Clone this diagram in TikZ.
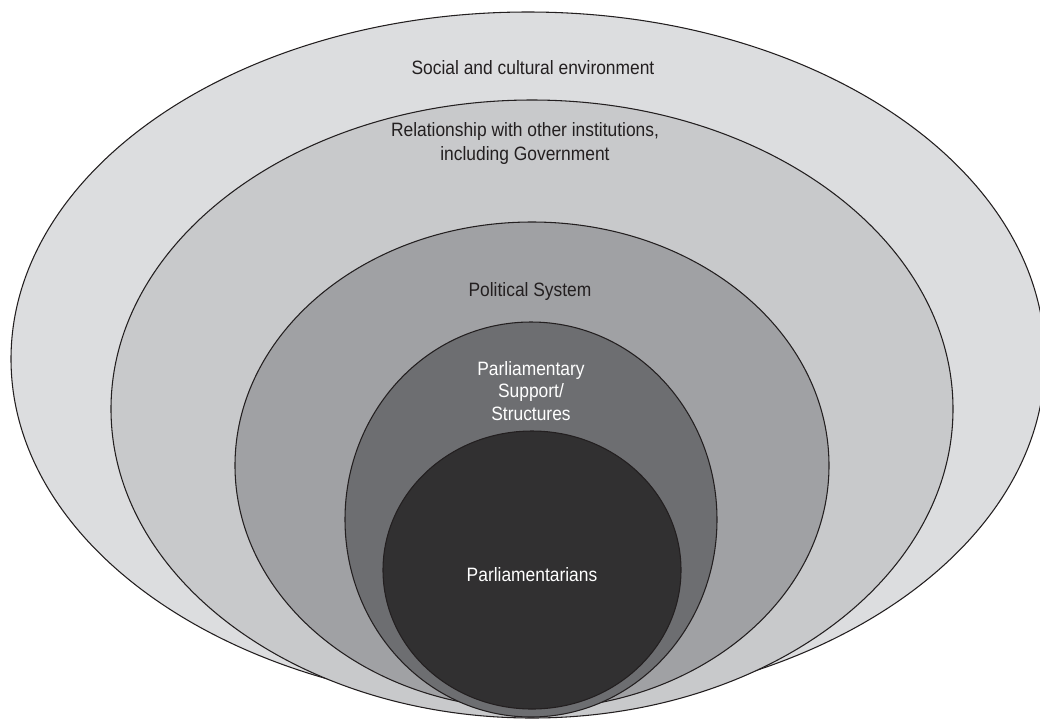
\documentclass[tikz,border=0pt]{standalone}
\usepackage{fontspec}
\setmainfont{Liberation Sans}[FakeStretch=0.9]
\definecolor{ringA}{HTML}{DCDDDF}
\definecolor{ringB}{HTML}{C8C9CB}
\definecolor{ringC}{HTML}{A0A1A4}
\definecolor{ringD}{HTML}{6D6E71}
\definecolor{ringE}{HTML}{313031}
\definecolor{edge}{HTML}{231F20}
\definecolor{darktext}{HTML}{231F20}
\begin{document}
\begin{tikzpicture}[x=0.75pt,y=-0.75pt,
  ring/.style={draw=edge,line width=0.8pt},
  label/.style={align=center,font=\fontsize{14.5}{18}\selectfont,inner sep=0pt},
  darklabel/.style={label,text=darktext},
  lightlabel/.style={label,text=white}]
\useasboundingbox (0,0) rectangle (1040,719);
% nested layers, outermost first
\path[ring,fill=ringA] (528,359) ellipse [x radius=517, y radius=347];
\path[ring,fill=ringB] (532,409) ellipse [x radius=421, y radius=309];
\path[ring,fill=ringC] (532,465.5) ellipse [x radius=297, y radius=243.5];
\path[ring,fill=ringD] (531,519.5) ellipse [x radius=186, y radius=197.5];
\path[ring,fill=ringE] (532,570) ellipse [x radius=149, y radius=139];
% layer captions
\node[darklabel] (social) at (533,68) {Social and cultural environment};
\node[darklabel] (relations) at (525,143) {Relationship with other institutions,\\including Government};
\node[darklabel] (political) at (530,291) {Political System};
\node[lightlabel,font=\fontsize{14.5}{17}\selectfont] (support) at (531,391) {Parliamentary\\Support/\\Structures};
\node[lightlabel] (members) at (532,575) {Parliamentarians};
\end{tikzpicture}
\end{document}
